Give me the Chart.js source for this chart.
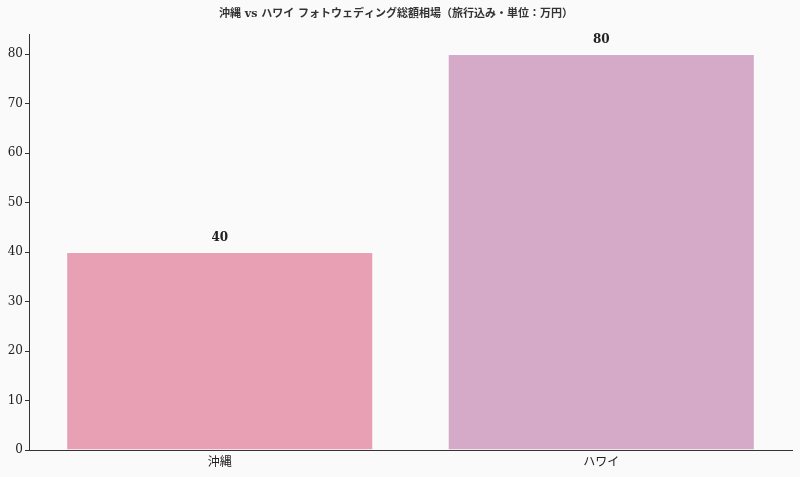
<!DOCTYPE html>
<html>
<head>
<meta charset="utf-8">
<script src="https://cdn.jsdelivr.net/npm/chart.js@4/dist/chart.umd.min.js"></script>
<style>
  html, body { margin: 0; padding: 0; background: #fafafa; }
  #wrap { width: 800px; height: 477px; }
</style>
</head>
<body>
<div id="wrap"><canvas id="myChart"></canvas></div>
<script>
const labels = ['沖縄', 'ハワイ'];
const values = [40, 80];
const barColors = ['#e8a1b4', '#d5a9c8'];
const yTicks = [0, 10, 20, 30, 40, 50, 60, 70, 80];
const titleText = '沖縄 vs ハワイ フォトウェディング総額相場（旅行込み・単位：万円）';

const FONT = "'DejaVu Serif', 'Liberation Serif', 'Noto Sans CJK JP', serif";

const bgPlugin = {
    id: 'bg',
    beforeDraw: (chart) => {
        const ctx = chart.ctx;
        ctx.save();
        ctx.fillStyle = '#fafafa';
        ctx.fillRect(0, 0, chart.width, chart.height);
        ctx.restore();
    }
};

// value labels above each bar
const valueLabels = {
    id: 'valueLabels',
    afterDatasetsDraw: (chart) => {
        const ctx = chart.ctx;
        const meta = chart.getDatasetMeta(0);
        ctx.save();
        ctx.font = "600 12px " + FONT;
        ctx.fillStyle = '#222';
        ctx.textAlign = 'center';
        ctx.textBaseline = 'bottom';
        meta.data.forEach((bar, i) => {
            ctx.fillText(String(values[i]), bar.x, bar.y - 8);
        });
        ctx.restore();
    }
};

var ctx = document.getElementById('myChart').getContext('2d');
var myChart = new Chart(ctx, {
    type: 'bar',
    data: {
        labels: labels,
        datasets: [{
            data: values,
            backgroundColor: barColors,
            borderColor: 'rgba(255,255,255,0.7)',
            borderWidth: 1,
            barPercentage: 1.0,
            categoryPercentage: 0.805
        }]
    },
    plugins: [bgPlugin, valueLabels],
    options: {
        responsive: true,
        maintainAspectRatio: false,
        animation: false,
        layout: { padding: { left: 0, right: 8, top: 0, bottom: 0 } },
        scales: {
            x: {
                offset: true,
                grid: { display: false, drawOnChartArea: false, tickLength: 4, tickColor: '#333' },
                border: { color: '#333', width: 1 },
                ticks: { color: '#222', font: { family: FONT, size: 12 }, padding: 2 },
                afterFit: (scale) => { scale.height = 27; }
            },
            y: {
                min: 0,
                max: 84,
                afterBuildTicks: (scale) => { scale.ticks = yTicks.map(v => ({ value: v })); },
                grid: { drawOnChartArea: false, tickLength: 4, tickColor: '#333' },
                border: { color: '#333', width: 1 },
                ticks: { color: '#222', font: { family: FONT, size: 12 }, padding: 2 },
                afterFit: (scale) => { scale.width = 29; }
            }
        },
        plugins: {
            legend: { display: false },
            tooltip: { enabled: false },
            title: {
                display: true,
                text: titleText,
                color: '#333',
                font: { family: FONT, size: 11, weight: 'bold' },
                padding: { top: 8, bottom: 13 }
            }
        }
    }
});
</script>
</body>
</html>
